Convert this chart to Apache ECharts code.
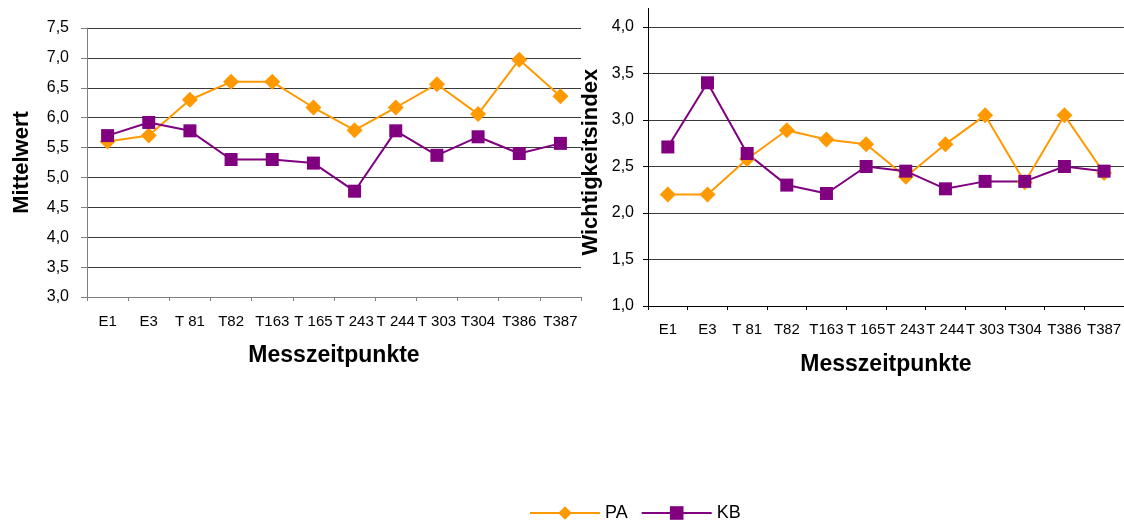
<!DOCTYPE html>
<html>
<head>
<meta charset="utf-8">
<script src="https://cdn.jsdelivr.net/npm/echarts@6/dist/echarts.min.js"></script>
<style>
html,body{margin:0;padding:0;background:#fff;}
#chart{width:1124px;height:523px;}
</style>
</head>
<body>
<div id="chart"></div>
<script>
var categories = ['E1','E3','T 81','T82','T163','T 165','T 243','T 244','T 303','T304','T386','T387'];
var meanPA = [5.60, 5.70, 6.30, 6.60, 6.60, 6.17, 5.79, 6.17, 6.56, 6.06, 6.97, 6.36];
var meanKB = [5.70, 5.92, 5.78, 5.30, 5.30, 5.24, 4.77, 5.78, 5.37, 5.68, 5.40, 5.57];
var indexPA = [2.20, 2.20, 2.58, 2.89, 2.79, 2.74, 2.39, 2.74, 3.05, 2.33, 3.05, 2.43];
var indexKB = [2.71, 3.40, 2.64, 2.30, 2.21, 2.50, 2.45, 2.26, 2.34, 2.34, 2.50, 2.45];
var seriesNames = ['PA', 'KB'];
var leftAxisTitle = 'Mittelwert';
var rightAxisTitle = 'Wichtigkeitsindex';
var xAxisTitle = 'Messzeitpunkte';

var FONT = 'Liberation Sans, Arial, sans-serif';
var ORANGE = '#FF9900';
var PURPLE = '#800080';

function fmt(v) {
  if (Math.abs(v * 2 - Math.round(v * 2)) > 1e-6) return '';
  return v.toFixed(1).replace('.', ',');
}

function xAxisCfg(gridIndex, lineColor, margin) {
  return {
    type: 'category', gridIndex: gridIndex, data: categories, boundaryGap: true,
    axisLine: {show: true, lineStyle: {color: lineColor, width: 1}},
    axisTick: {show: true, length: 4, lineStyle: {color: lineColor}},
    axisLabel: {interval: 0, color: '#000', fontFamily: FONT, fontSize: 15, margin: margin},
    name: xAxisTitle, nameLocation: 'middle', nameGap: 47,
    nameTextStyle: {color: '#000', fontFamily: FONT, fontSize: 23, fontWeight: 'bold'}
  };
}

var option = {
  animation: false,
  backgroundColor: '#fff',
  grid: [
    {left: 87, top: 28, width: 494, height: 269, containLabel: false},
    {left: 648, top: 8.4, width: 480, height: 297.6, containLabel: false}
  ],
  legend: {
    data: seriesNames, left: 529, top: 504, padding: 0, itemWidth: 70, itemHeight: 17, itemGap: 13,
    textStyle: {color: '#000', fontFamily: FONT, fontSize: 18}
  },
  xAxis: [xAxisCfg(0, '#808080', 17), xAxisCfg(1, '#000', 16)],
  yAxis: [
    {
      type: 'value', gridIndex: 0, min: 3, max: 7.5, interval: 0.5,
      axisLine: {show: true, lineStyle: {color: '#808080'}},
      axisTick: {show: true, length: 6, lineStyle: {color: '#808080'}},
      axisLabel: {color: '#000', fontFamily: FONT, fontSize: 16, margin: 18, formatter: fmt},
      splitLine: {show: true, lineStyle: {color: '#3a3a3a', width: 1}},
      name: leftAxisTitle, nameLocation: 'middle', nameGap: 54,
      nameTextStyle: {color: '#000', fontFamily: FONT, fontSize: 22, fontWeight: 'bold'}
    },
    {
      type: 'value', gridIndex: 1, min: 1, max: 4.2, interval: 0.5,
      axisLine: {show: true, lineStyle: {color: '#000'}},
      axisTick: {show: true, length: 5, lineStyle: {color: '#000'}},
      axisLabel: {color: '#000', fontFamily: FONT, fontSize: 16, margin: 14, formatter: fmt, showMaxLabel: false},
      splitLine: {show: true, showMaxLine: false, lineStyle: {color: '#3a3a3a', width: 1}},
      name: rightAxisTitle, nameLocation: 'middle', nameGap: 46,
      nameTextStyle: {color: '#000', fontFamily: FONT, fontSize: 22, fontWeight: 'bold', padding: [0, 10, 0, 0]}
    }
  ],
  series: [
    {name: 'PA', type: 'line', xAxisIndex: 0, yAxisIndex: 0, data: meanPA, symbol: 'diamond', symbolSize: 16,
     lineStyle: {color: ORANGE, width: 2}, itemStyle: {color: ORANGE}},
    {name: 'KB', type: 'line', xAxisIndex: 0, yAxisIndex: 0, data: meanKB, symbol: 'rect', symbolSize: 13,
     lineStyle: {color: PURPLE, width: 2}, itemStyle: {color: PURPLE}},
    {name: 'PA', type: 'line', xAxisIndex: 1, yAxisIndex: 1, data: indexPA, symbol: 'diamond', symbolSize: 16,
     lineStyle: {color: ORANGE, width: 2}, itemStyle: {color: ORANGE}},
    {name: 'KB', type: 'line', xAxisIndex: 1, yAxisIndex: 1, data: indexKB, symbol: 'rect', symbolSize: 13,
     lineStyle: {color: PURPLE, width: 2}, itemStyle: {color: PURPLE}}
  ]
};

var chart = echarts.init(document.getElementById('chart'), null, {renderer: 'canvas'});
chart.setOption(option);
</script>
</body>
</html>
